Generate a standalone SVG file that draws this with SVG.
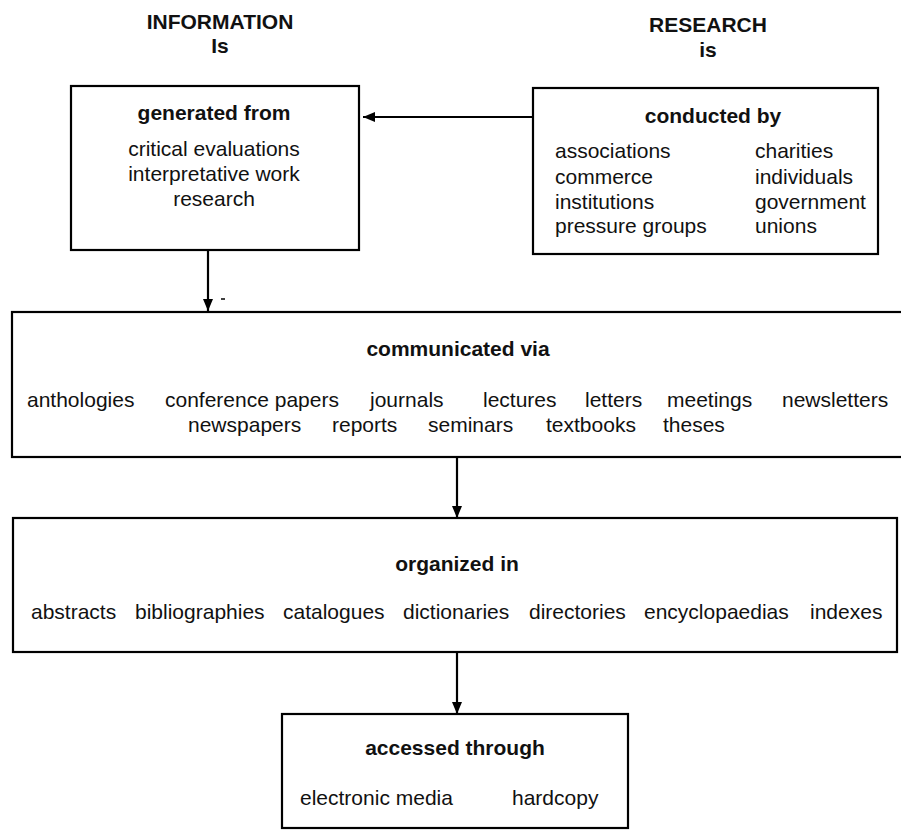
<svg xmlns="http://www.w3.org/2000/svg" width="901" height="833" viewBox="0 0 901 833">
<defs>
<marker id="ah" viewBox="0 0 12 10" refX="12" refY="5" markerWidth="12" markerHeight="10" markerUnits="userSpaceOnUse" orient="auto">
<path d="M0,0 L12,5 L0,10 Z" fill="#000"/>
</marker>
<style>
text{font-family:"Liberation Sans",Arial,sans-serif;font-size:21px;fill:#111}
.b{font-weight:bold}
.c{text-anchor:middle}
.box{fill:#fff;stroke:#000;stroke-width:2.2}
.ln{stroke:#000;stroke-width:2.2;fill:none}
</style>
</defs>
<rect width="901" height="833" fill="#fff"/>
<g id="headings">
<text class="b c" x="220" y="29">INFORMATION</text>
<text class="b c" x="220" y="53">Is</text>
<text class="b c" x="708" y="32">RESEARCH</text>
<text class="b c" x="708" y="57">is</text>
</g>
<g id="connectors">
<line class="ln" x1="533" y1="117" x2="363" y2="117" marker-end="url(#ah)"/>
<line class="ln" x1="208" y1="250" x2="208" y2="311" marker-end="url(#ah)"/>
<line class="ln" x1="457" y1="457" x2="457" y2="518" marker-end="url(#ah)"/>
<line class="ln" x1="457" y1="652" x2="457" y2="714" marker-end="url(#ah)"/>
<line x1="221" y1="299" x2="225" y2="299" stroke="#000" stroke-width="1.5"/>
</g>
<g id="generated">
<rect class="box" x="71" y="86" width="288" height="164"/>
<text class="b c" x="214" y="120">generated from</text>
<text class="c" x="214" y="156">critical evaluations</text>
<text class="c" x="214" y="181">interpretative work</text>
<text class="c" x="214" y="206">research</text>
</g>
<g id="conducted">
<rect class="box" x="533" y="88" width="345" height="166"/>
<text class="b c" x="713" y="123">conducted by</text>
<text x="555" y="158">associations</text>
<text x="555" y="184">commerce</text>
<text x="555" y="209">institutions</text>
<text x="555" y="233">pressure groups</text>
<text x="755" y="158">charities</text>
<text x="755" y="184">individuals</text>
<text x="755" y="209">government</text>
<text x="755" y="233">unions</text>
</g>
<g id="communicated">
<rect class="box" x="12" y="312" width="900" height="145"/>
<text class="b c" x="458" y="356">communicated via</text>
<text x="27" y="407">anthologies</text>
<text x="165" y="407">conference papers</text>
<text x="370" y="407">journals</text>
<text x="483" y="407">lectures</text>
<text x="585" y="407">letters</text>
<text x="667" y="407">meetings</text>
<text x="782" y="407">newsletters</text>
<text x="188" y="432">newspapers</text>
<text x="332" y="432">reports</text>
<text x="428" y="432">seminars</text>
<text x="546" y="432">textbooks</text>
<text x="663" y="432">theses</text>
</g>
<g id="organized">
<rect class="box" x="13" y="518" width="884" height="134"/>
<text class="b c" x="457" y="571">organized in</text>
<text x="31" y="619">abstracts</text>
<text x="135" y="619">bibliographies</text>
<text x="283" y="619">catalogues</text>
<text x="403" y="619">dictionaries</text>
<text x="529" y="619">directories</text>
<text x="644" y="619">encyclopaedias</text>
<text x="810" y="619">indexes</text>
</g>
<g id="accessed">
<rect class="box" x="282" y="714" width="346" height="114"/>
<text class="b c" x="455" y="755">accessed through</text>
<text x="300" y="805">electronic media</text>
<text x="512" y="805">hardcopy</text>
</g>
</svg>
